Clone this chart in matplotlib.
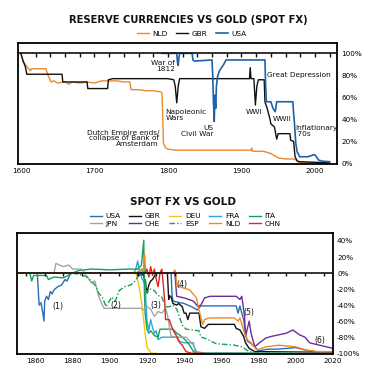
import matplotlib
matplotlib.use("Agg")
import matplotlib.pyplot as plt
import numpy as np

plt.rcParams['font.family'] = ['DejaVu Sans']

# ---------------- top chart: reserve currencies vs gold (share of starting value, %)
nld_yr = [1600, 1603, 1606, 1609, 1613, 1614, 1634, 1637, 1641, 1645, 1650, 1660, 1665, 1670, 1680,
          1690, 1700, 1710, 1720, 1730, 1740, 1748, 1750, 1760, 1770, 1780, 1790, 1792, 1794, 1797,
          1800, 1810, 1820, 1850, 1880, 1900, 1913, 1914, 1915, 1920, 1930, 1935, 1940, 1945, 1950,
          1960, 1970, 1975, 1978, 1985, 2000, 2020]
nld_val = [100, 93, 90, 87, 84, 86, 86, 80, 74, 75, 73, 74, 72, 74, 73,
           74, 73, 75, 75, 75, 74, 74, 67, 67, 66, 66, 65, 64, 18, 14,
           13, 12, 12, 12, 12, 12, 12, 14, 11, 11, 11, 10, 9, 7, 5,
           4, 4, 3, 1, 0.5, 0.3, 0.2]

gbr_yr = [1600, 1603, 1606, 1608, 1656, 1657, 1690, 1691, 1718, 1719, 1725, 1800, 1808, 1810, 1812,
          1814, 1816, 1911, 1912, 1913, 1917, 1919, 1921, 1923, 1931, 1932, 1935, 1939, 1940, 1945,
          1948, 1950, 1966, 1967, 1971, 1973, 1976, 1980, 2000, 2020]
gbr_val = [100, 93, 88, 81, 81, 74, 74, 68, 68, 76, 77, 77, 76, 70, 55,
           70, 77, 77, 87, 77, 77, 53, 70, 76, 76, 56, 50, 40, 36, 33,
           22, 27, 27, 21, 20, 6, 2, 1.5, 1, 0.5]

usa_yr = [1792, 1812, 1813, 1814, 1815, 1816, 1833, 1834, 1836, 1860, 1861, 1862, 1863, 1864, 1865,
          1866, 1867, 1868, 1870, 1872, 1876, 1879, 1932, 1933, 1934, 1940, 1943, 1946, 1948, 1970,
          1971, 1972, 1973, 1974, 1976, 1978, 1979, 1985, 1990, 1995, 1999, 2001, 2005, 2010, 2020]
usa_val = [100, 100, 92, 89, 96, 100, 100, 94, 93, 94, 80, 55, 38, 62, 50,
           70, 76, 80, 84, 86, 90, 94, 94, 70, 56, 56, 50, 47, 56, 56,
           45, 38, 28, 18, 10, 8, 6, 6, 6, 7, 8, 7, 3, 2, 1.5]

# ---------------- bottom chart: spot FX vs gold (% change)
b_usa_yr = [1850, 1861, 1862, 1863, 1864, 1864.6, 1865, 1866, 1867, 1868, 1869, 1870, 1872, 1874, 1876,
            1877, 1879, 1933, 1933.5, 1934, 1940, 1944, 1947, 1949, 1968, 1969, 1970, 1971, 1972, 1973,
            1974, 1976, 1978, 1980, 1985, 1990, 1995, 2000, 2005, 2011, 2020]
b_usa_val = [0, 0, -40, -37, -50, -60, -35, -29, -33, -23, -26, -21, -17, -15, -8,
             -10, 0, 0, -28, -35, -38, -42, -46, -41, -41, -50, -41, -50, -58, -75,
             -85, -88, -92, -97, -95, -95, -94, -93, -96, -98.5, -98.5]

b_gbr_yr = [1850, 1914, 1915, 1918, 1919, 1920, 1921, 1922, 1923, 1925, 1931, 1931.7, 1932, 1933, 1934,
            1936, 1937, 1939, 1940, 1941, 1942, 1943, 1948, 1949, 1951, 1953, 1967, 1968, 1970, 1971,
            1972, 1973, 1975, 1978, 2000, 2020]
b_gbr_val = [0, 0, -3, -2, -10, -25, -15, -10, -8, 0, 0, -33, -28, -30, -38,
             -40, -38, -42, -50, -50, -58, -50, -50, -67, -69, -64, -64, -69, -71, -75,
             -79, -87, -94, -98, -98.5, -99]

b_deu_yr = [1850, 1914, 1915, 1916, 1917, 1918, 1919, 1920, 1921, 1922, 1923, 1925]
b_deu_val = [0, 0, -8, -20, -35, -54, -75, -92, -96, -99, -100, -100]

b_fra_yr = [1850, 1913, 1914, 1915, 1916, 1917, 1918, 1919, 1920, 1921, 1922, 1923, 1924, 1925, 1926,
            1928, 1936, 1937, 1940, 1945, 1946, 1950, 1999]
b_fra_val = [0, 0, 5, 15, 2, -5, -10, -15, -60, -71, -58, -68, -75, -72, -83,
             -80, -80, -85, -87, -87, -98, -99.5, -100]

b_ita_yr = [1850, 1857, 1858, 1859, 1866, 1867, 1870, 1875, 1880, 1883, 1890, 1900, 1910, 1915, 1917,
            1918.3, 1918.6, 1919, 1920, 1921, 1922, 1924, 1926, 1927, 1934, 1936, 1938, 1940, 1943, 1945,
            1947, 1999]
b_ita_val = [0, 0, -10, -3, -3, -8, -5, -6, 0, 3, 5, 4, 5, 5, 10,
             41, -20, -50, -70, -75, -72, -78, -80, -70, -70, -75, -78, -82, -90, -98,
             -100, -100]

b_jpn_yr = [1850, 1870, 1871, 1873, 1875, 1878, 1880, 1885, 1887, 1890, 1892, 1894, 1896, 1897, 1917,
            1918, 1920, 1922, 1924, 1926, 1928, 1930, 1931, 1932, 1933, 1936, 1941, 1943, 1945, 1947,
            1950, 2020]
b_jpn_val = [0, 0, 12, 10, 8, 10, 5, 5, -2, -12, -10, -29, -40, -44, -44,
             -46, -42, -45, -54, -48, -50, -44, -52, -66, -79, -80, -80, -85, -90, -99,
             -100, -100]

b_che_yr = [1850, 1935, 1936, 1940, 1945, 1947.5, 1949, 1951, 1954, 1968, 1970, 1971, 1972.5, 1973, 1975,
            1976, 1978, 1980.5, 1984, 1987, 1991, 1995, 1998.5, 2002, 2005, 2007.5, 2011, 2016.5, 2020]
b_che_val = [0, 0, -29, -31, -35, -42, -40, -31, -29, -29, -33, -29, -54, -79, -60,
             -75, -92, -87, -81, -79, -77, -75, -71, -77, -80, -87, -89, -92, -94]

b_esp_yr = [1850, 1880, 1884, 1888, 1890, 1892, 1894, 1896, 1898, 1899, 1901, 1903, 1905, 1908, 1911,
            1913, 1915, 1917, 1919, 1920, 1922, 1924, 1926, 1928, 1930, 1932, 1934, 1936, 1939, 1941,
            1948, 1949, 1952, 1957, 1967, 1971, 1975, 1980, 1999]
b_esp_val = [0, 0, -2, -5, -10, -15, -25, -30, -42, -38, -30, -35, -22, -17, -15,
             -12, -5, 5, -5, -25, -20, -22, -28, -30, -42, -42, -40, -45, -65, -70,
             -72, -80, -82, -88, -90, -92, -98, -100, -100]

b_nld_yr = [1850, 1914, 1916, 1918, 1918.8, 1919.3, 1934, 1935, 1935.5, 1936, 1943, 1946.6, 1948.4, 1950, 1951,
            1953.7, 1967, 1969, 1970, 1972.5, 1974, 1976, 1979, 1984, 1991, 2000, 2005.7, 2012, 2020]
b_nld_val = [0, 0, 3, 5, 23, 0, 0, 4, 0, -16, -21, -31, -50, -64, -58,
             -56, -56, -60, -56, -75, -83, -87, -96, -92, -90, -92, -96, -98, -98]

b_chn_yr = [1919, 1920, 1921, 1922, 1923, 1924, 1925, 1926, 1927, 1928, 1929, 1929.6, 1930, 1932, 1933,
            1934, 1936, 1937.7, 1939, 1941, 1944, 1950]
b_chn_val = [0, 5, -5, 8, -3, 5, -8, -17, 0, 5, -20, -37, -58, -58, -65,
             -71, -79, -87, -90, -98, -100, -100]

top_ticks = [1600, 1700, 1800, 1900, 2000]
top_pct = [0, 20, 40, 60, 80, 100]
bot_ticks = [1860, 1880, 1900, 1920, 1940, 1960, 1980, 2000, 2020]
bot_pct = [40, 20, 0, -20, -40, -60, -80, -100]

C_NLD = '#e88a2c'
C_GBR = '#111111'
C_USA = '#1f62a8'

fig = plt.figure(figsize=(3.74, 3.83), dpi=100)

# ---- top axes
ax1 = fig.add_axes([0.048, 0.572, 0.853, 0.316])
l_nld, = ax1.plot(nld_yr, nld_val, color=C_NLD, lw=1.0, label='NLD')
l_gbr, = ax1.plot(gbr_yr, gbr_val, color=C_GBR, lw=1.0, label='GBR')
l_usa, = ax1.plot(usa_yr, usa_val, color=C_USA, lw=1.2, label='USA')
ax1.axhline(100, color='#111111', lw=1.2, zorder=5)
ax1.vlines(np.arange(1620, 2030, 20), 97, 100, color='#111111', lw=1.0, zorder=5)
ax1.set_xlim(1596, 2030)
ax1.set_ylim(-0.5, 109.5)
ax1.set_xticks(top_ticks)
ax1.set_yticks(top_pct)
ax1.set_yticklabels([f'{v}%' for v in top_pct])
ax1.yaxis.tick_right()
ax1.tick_params(length=0, labelsize=5.2, pad=3)
for s in ax1.spines.values():
    s.set_linewidth(1.3)

txt = dict(fontsize=5.3, color='#111111', linespacing=0.9)
ax1.text(1810, 88.5, 'War of\n1812', ha='right', va='center', **txt)
ax1.text(1935, 80, 'Great Depression', ha='left', va='center', **txt)
ax1.text(1797, 44, 'Napoleonic\nWars', ha='left', va='center', **txt)
ax1.text(1862, 29.5, 'US\nCivil War', ha='right', va='center', **txt)
ax1.text(1917, 46.5, 'WWI', ha='center', va='center', **txt)
ax1.text(1956, 40, 'WWII', ha='center', va='center', **txt)
ax1.text(1973, 29.5, 'Inflationary\n 70s', ha='left', va='center', **txt)
ax1.text(1788, 23, 'Dutch Empire ends/\ncollapse of Bank of\nAmsterdam', ha='right', va='center', **txt)

fig.text(0.503, 0.947, 'RESERVE CURRENCIES VS GOLD (SPOT FX)', ha='center', va='center',
         fontsize=7.2, fontweight='bold', color='#111111')
fig.legend(handles=[l_nld, l_gbr, l_usa], loc='center', bbox_to_anchor=(0.513, 0.912), ncol=3,
           frameon=False, fontsize=5.3, handlelength=1.6, columnspacing=1.2, handletextpad=0.5)

# ---- bottom axes
ax2 = fig.add_axes([0.045, 0.0757, 0.845, 0.316])
specs = [
    ('USA', b_usa_yr, b_usa_val, '#2a6db5', '-'),
    ('GBR', b_gbr_yr, b_gbr_val, '#111111', '-'),
    ('DEU', b_deu_yr, b_deu_val, '#f3c417', '-'),
    ('FRA', b_fra_yr, b_fra_val, '#2aa7df', '-'),
    ('ITA', b_ita_yr, b_ita_val, '#17a05a', '-'),
    ('JPN', b_jpn_yr, b_jpn_val, '#a5a5a5', '-'),
    ('CHE', b_che_yr, b_che_val, '#6b2d9e', '-'),
    ('ESP', b_esp_yr, b_esp_val, '#17a05a', (0, (4, 1.5, 1, 1.5))),
    ('NLD', b_nld_yr, b_nld_val, '#f28a22', '-'),
    ('CHN', b_chn_yr, b_chn_val, '#e3231e', '-'),
]
handles = {}
for name, xs, ys, col, ls in specs:
    h, = ax2.plot(xs, ys, color=col, lw=1.0, ls=ls, label=name)
    handles[name] = h
ax2.axhline(0, color='#111111', lw=1.2, zorder=5)
ax2.vlines(np.arange(1855, 2020, 10), -3.5, 0, color='#111111', lw=1.0, zorder=5)
ax2.set_xlim(1850, 2020)
ax2.set_ylim(-101, 50)
ax2.set_xticks(bot_ticks)
ax2.set_yticks(bot_pct)
ax2.set_yticklabels([f'{v}%' for v in bot_pct])
ax2.yaxis.tick_right()
ax2.tick_params(length=0, labelsize=5.2, pad=3)
for s in ax2.spines.values():
    s.set_linewidth(1.3)

for lab, xx, yy in [('(1)', 1872, -42), ('(2)', 1903, -40), ('(3)', 1925, -40),
                    ('(4)', 1939, -14), ('(5)', 1975, -49), ('(6)', 2013, -84)]:
    ax2.text(xx, yy, lab, ha='center', va='center', fontsize=5.6, color='#111111')

fig.text(0.49, 0.472, 'SPOT FX VS GOLD', ha='center', va='center',
         fontsize=7.6, fontweight='bold', color='#111111')
order = ['USA', 'JPN', 'GBR', 'CHE', 'DEU', 'ESP', 'FRA', 'NLD', 'ITA', 'CHN']
fig.legend(handles=[handles[k] for k in order], loc='center', bbox_to_anchor=(0.495, 0.426), ncol=5,
           frameon=False, fontsize=5.3, handlelength=1.6, columnspacing=1.2, handletextpad=0.5,
           labelspacing=0.15)

fig.savefig('out.png', dpi=100)
